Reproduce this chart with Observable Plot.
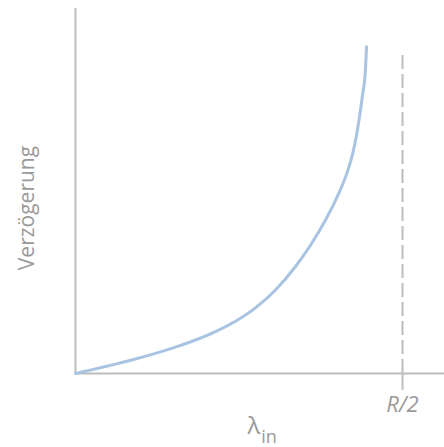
<!DOCTYPE html>
<html><head><meta charset="utf-8">
<script src="https://cdn.jsdelivr.net/npm/d3@7"></script>
<script src="https://cdn.jsdelivr.net/npm/@observablehq/plot@0.6"></script>
<style>body{margin:0;background:#fff;font-family:"Open Sans",sans-serif}</style>
</head><body><div id="chart"></div>
<script>
const lambdaIn = [0, 0.0306, 0.0612, 0.0917, 0.1223, 0.1529, 0.1835, 0.2141, 0.2446, 0.2752, 0.3058, 0.3364, 0.3593, 0.3823, 0.4001, 0.4154, 0.4235, 0.4307, 0.4384, 0.4434, 0.445];
const delay    = [0, 0.0126, 0.0257, 0.0398, 0.0551, 0.0722, 0.0918, 0.1148, 0.1432, 0.1799, 0.2289, 0.2932, 0.3515, 0.4205, 0.4837, 0.5510, 0.5996, 0.6630, 0.7569, 0.8344, 0.8952];
const capacityX = [0.5];
const capacityLabel = ["R/2"];
const dashTop = 0.885;
const xLabel = "λ";
const xLabelSub = "in";
const yLabel = "Verzögerung";

const data = lambdaIn.map((x, i) => ({x, y: delay[i]}));
const gray = "#bdbdbd";
const textGray = "#9a9a9a";

const plot = Plot.plot({
  width: 444, height: 447,
  marginLeft: 75, marginRight: 0, marginTop: 8, marginBottom: 74,
  style: {fontFamily: "Open Sans, sans-serif", background: "#fff"},
  x: {domain: [0, 0.5642], axis: null},
  y: {domain: [0, 1], axis: null},
  marks: [
    Plot.ruleX(capacityX, {y1: 0, y2: dashTop, stroke: gray, strokeWidth: 2, strokeDasharray: "14,5"}),
    Plot.axisX({ticks: capacityX, tickFormat: (d, i) => capacityLabel[i], tickSize: 17, stroke: gray, strokeWidth: 2, strokeOpacity: 1,
      fontSize: 22, fontStyle: "italic", fill: textGray, tickPadding: 6, label: null}),
    Plot.ruleY([0], {stroke: gray, strokeWidth: 2}),
    Plot.ruleX([0], {stroke: gray, strokeWidth: 2}),
    Plot.line(data, {x: "x", y: "y", curve: "monotone-x", stroke: "#a8c4e2", strokeWidth: 3}),
    Plot.text([xLabel], {frameAnchor: "bottom", text: d => d, dx: -6, dy: 53, lineAnchor: "middle", fontSize: 24, fill: textGray}),
    Plot.text([xLabelSub], {frameAnchor: "bottom", text: d => d, dx: 9, dy: 64, lineAnchor: "middle", fontSize: 18, fill: textGray}),
    Plot.text([yLabel], {frameAnchor: "left", text: d => d, textAnchor: "middle", dx: -48, dy: 17, rotate: -90, fontSize: 21, fill: textGray})
  ]
});
document.getElementById("chart").appendChild(plot);
</script></body></html>
